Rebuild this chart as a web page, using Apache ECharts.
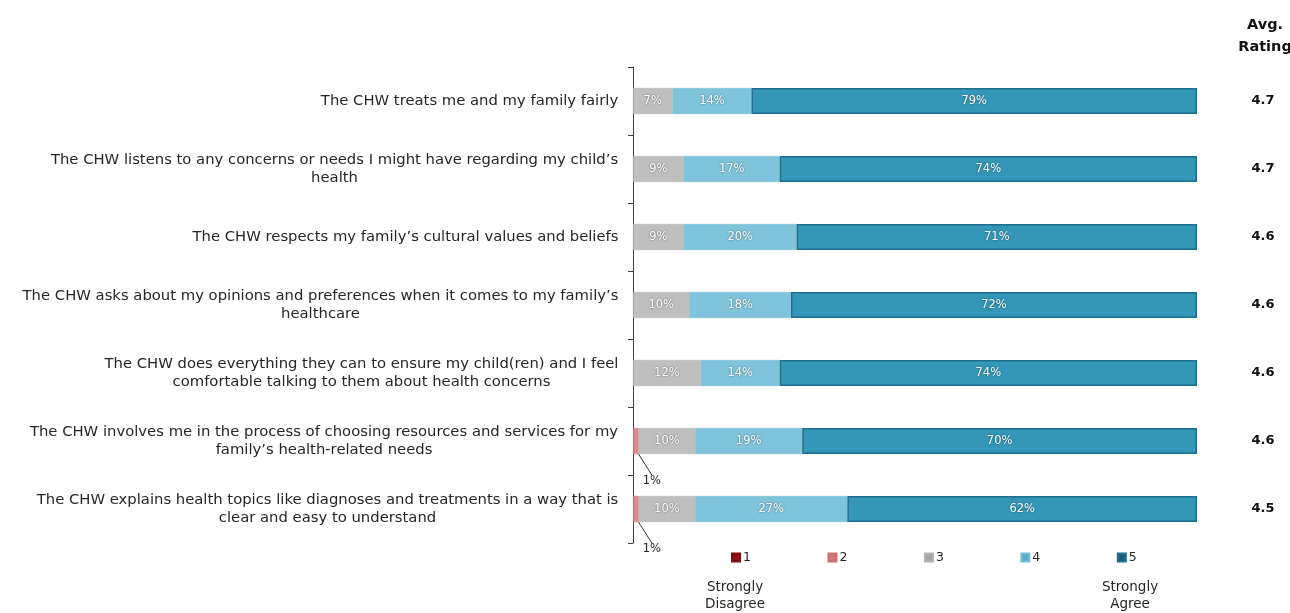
<!DOCTYPE html>
<html>
<head>
<meta charset="utf-8">
<script src="https://cdn.jsdelivr.net/npm/echarts@6/dist/echarts.min.js"></script>
<style>
  html, body { margin: 0; padding: 0; background: #fff; }
  #chart { width: 1290px; height: 613px; }
</style>
</head>
<body>
<div id="chart"></div>
<script>
// Survey statements (top to bottom)
const statements = [
  "The CHW treats me and my family fairly",
  "The CHW listens to any concerns or needs I might have regarding my child\u2019s\nhealth",
  "The CHW respects my family\u2019s cultural values and beliefs",
  "The CHW asks about my opinions and preferences when it comes to my family\u2019s\nhealthcare",
  "The CHW does everything they can to ensure my child(ren) and I feel\ncomfortable talking to them about health concerns",
  "The CHW involves me in the process of choosing resources and services for my\nfamily\u2019s health-related needs",
  "The CHW explains health topics like diagnoses and treatments in a way that is\nclear and easy to understand"
];

// Share of responses (%) for each rating level
const rating1 = [0, 0, 0, 0, 0, 0, 0];
const rating2 = [0, 0, 0, 0, 0, 1, 1];
const rating3 = [7, 9, 9, 10, 12, 10, 10];
const rating4 = [14, 17, 20, 18, 14, 19, 27];
const rating5 = [79, 74, 71, 72, 74, 70, 62];

// Average rating per statement
const avgRatings = ["4.7", "4.7", "4.6", "4.6", "4.6", "4.6", "4.5"];

const levelNames = ["1", "2", "3", "4", "5"];

const FONT = "DejaVu Sans";
const LABEL_SIZE = 14.8;

// Center each line within its own label block (block itself right-aligned)
const measureCtx = document.createElement("canvas").getContext("2d");
measureCtx.font = LABEL_SIZE + "px '" + FONT + "'";
const rich = {};
statements.forEach((s, i) => {
  const w = Math.max(...s.split("\n").map(l => measureCtx.measureText(l).width));
  rich["r" + i] = {
    width: Math.ceil(w) + 1, align: "center",
    fontFamily: FONT, fontSize: LABEL_SIZE, color: "#262626", lineHeight: 18
  };
});

const barColors = ["#9b1b1e", "#e0898c", "#bfbfbf", "#7fc4db", "#3497b7"];
const legendColors = ["#8e0f12", "#d0767a", "#a6a6a6", "#5aaecb", "#1d5f80"];
const borderColors = ["#7a0f12", "#c96f73", "#b3b3b3", "#76bcd4", "#1f6e8d"];

const chart = echarts.init(document.getElementById("chart"));

const pct = p => (p.value > 0 ? p.value + "%" : "");

const valueLabel = {
  show: true,
  position: "inside",
  color: "#ffffff",
  fontFamily: FONT,
  fontSize: 11.5,
  textShadowColor: "rgba(0,0,0,0.55)",
  textShadowBlur: 2,
  formatter: pct
};

const seriesData = [rating1, rating2, rating3, rating4, rating5];

const series = seriesData.map((d, i) => {
  const s = {
    name: levelNames[i],
    type: "bar",
    stack: "total",
    barWidth: 26,
    // empty shares are left out so they draw no mark and no label
    data: d.map(v => (v > 0 ? v : null)),
    itemStyle: { color: barColors[i], borderColor: borderColors[i], borderWidth: i === 4 ? 1.5 : 0.5 },
    label: valueLabel,
    emphasis: { disabled: true }
  };
  if (i === 1) {
    // small share: label placed below the bar with a leader line
    s.label = {
      show: true,
      position: "bottom",
      distance: 2,
      color: "#262626",
      fontFamily: FONT,
      fontSize: 11.5,
      formatter: pct
    };
    s.labelLayout = { dx: 16, dy: 19 };
    s.labelLine = { show: true, lineStyle: { color: "#333", width: 1 } };
  }
  return s;
});

chart.setOption({
  animation: false,
  textStyle: { fontFamily: FONT },
  legend: {
    left: 731,
    top: 551,
    padding: 0,
    itemWidth: 8,
    itemHeight: 8,
    itemGap: 76.5,
    icon: "rect",
    selectedMode: false,
    textStyle: { fontFamily: FONT, fontSize: 12.5, color: "#262626", padding: [0, 0, 0, -2] },
    data: levelNames.map((n, i) => ({ name: n, itemStyle: { color: legendColors[i] } }))
  },
  grid: { left: 633, right: 93, top: 67, bottom: 70, containLabel: false },
  xAxis: {
    type: "value",
    min: 0,
    max: 100,
    show: false
  },
  yAxis: [
    {
      type: "category",
      inverse: true,
      data: statements,
      axisLine: { show: true, lineStyle: { color: "#404040", width: 1 } },
      axisTick: { show: true, length: 5, lineStyle: { color: "#404040" } },
      axisLabel: {
        margin: 14,
        align: "right",
        formatter: (v, idx) => v.split("\n").map(l => "{r" + idx + "|" + l + "}").join("\n"),
        rich: rich
      }
    },
    {
      type: "category",
      inverse: true,
      position: "right",
      data: avgRatings,
      axisLine: { show: false },
      axisTick: { show: false },
      axisLabel: {
        margin: 66,
        align: "center",
        fontFamily: FONT,
        fontSize: 13,
        fontWeight: "bold",
        color: "#111"
      }
    }
  ],
  graphic: [
    {
      type: "text", x: 1265, y: 14,
      style: { text: "Avg.\nRating", fontFamily: FONT, fontSize: 14.5, fontWeight: "bold", fill: "#111", align: "center", lineHeight: 22 }
    },
    {
      type: "text", x: 735, y: 579,
      style: { text: "Strongly\nDisagree", fontFamily: FONT, fontSize: 13.5, fill: "#262626", align: "center", lineHeight: 17 }
    },
    {
      type: "text", x: 1130, y: 579,
      style: { text: "Strongly\nAgree", fontFamily: FONT, fontSize: 13.5, fill: "#262626", align: "center", lineHeight: 17 }
    }
  ],
  series: series
});
</script>
</body>
</html>
